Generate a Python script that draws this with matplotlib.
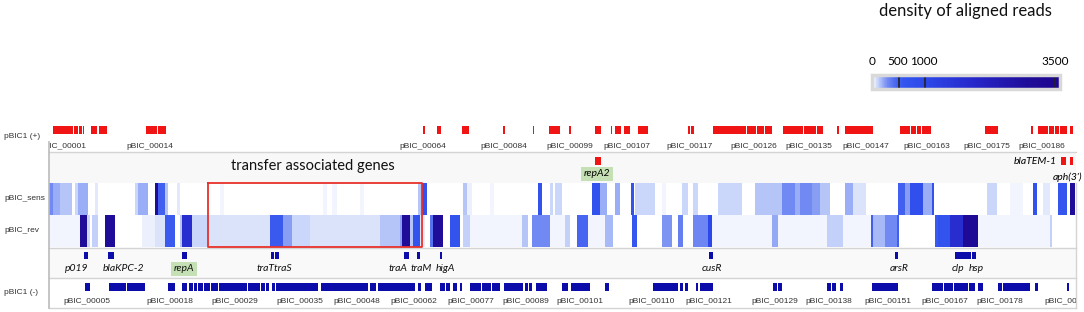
import numpy as np
import matplotlib.pyplot as plt
from matplotlib.colors import LinearSegmentedColormap, Normalize
from matplotlib.cm import ScalarMappable

# ---- data (positions along pBIC1, map units) ----
plus_genes = [(53, 73), (74, 78), (79, 82), (83, 84), (91, 97), (99, 107), (146, 157), (158, 166),
              (423, 425), (437, 441), (462, 469), (503, 505), (533, 534), (549, 560), (569, 571),
              (595, 601), (611, 612), (615, 621), (624, 630), (638, 648), (688, 690), (691, 694),
              (713, 730), (720, 746), (747, 756), (757, 764), (765, 772), (783, 803), (804, 816),
              (817, 823), (837, 839), (845, 873), (900, 910), (911, 916), (917, 921), (922, 931),
              (985, 998), (1031, 1033), (1038, 1048), (1049, 1054), (1055, 1059), (1060, 1067),
              (1070, 1073)]
plus_names = ["pBIC_00001", "pBIC_00014", "pBIC_00064", "pBIC_00084", "pBIC_00099", "pBIC_00107",
              "pBIC_00117", "pBIC_00126", "pBIC_00135", "pBIC_00147", "pBIC_00163", "pBIC_00175",
              "pBIC_00186"]
plus_name_pos = [63, 150, 423, 504, 570, 627, 690, 754, 809, 866, 927, 987, 1042]

minus_genes = [(85, 90), (109, 126), (127, 145), (168, 175), (182, 187), (189, 193), (194, 197),
               (198, 203), (204, 210), (211, 218), (219, 247), (248, 260), (261, 265), (266, 269),
               (272, 275), (276, 318), (321, 368), (360, 368), (370, 376), (378, 415), (418, 421),
               (425, 432), (440, 445), (446, 450), (453, 457), (460, 462), (470, 481), (482, 491),
               (492, 500), (504, 523), (525, 528), (529, 532), (536, 547), (562, 568), (571, 590),
               (605, 609), (653, 678), (680, 683), (685, 688), (696, 698), (700, 713), (773, 777),
               (778, 782), (827, 831), (832, 836), (840, 843), (872, 898), (932, 943), (944, 953),
               (954, 968), (969, 975), (978, 983), (998, 1002), (1003, 1030), (1035, 1038),
               (1067, 1069)]
minus_names = ["pBIC_00005", "pBIC_00018", "pBIC_00029", "pBIC_00035", "pBIC_00048", "pBIC_00062",
               "pBIC_00077", "pBIC_00089", "pBIC_00101", "pBIC_00110", "pBIC_00121", "pBIC_00129",
               "pBIC_00138", "pBIC_00151", "pBIC_00167", "pBIC_00178", "pBIC_00186"]
minus_name_pos = [87, 170, 235, 300, 357, 414, 471, 526, 580, 652, 709, 775, 829, 888, 945, 1000, 1068]

named_genes = [(84, 88), (108, 114), (182, 187), (271, 274), (275, 279), (404, 409), (417, 420),
               (440, 442), (709, 713), (895, 898), (955, 971), (972, 976)]
named_labels = ["p019", "blaKPC-2", "repA", "traTtraS", "traA", "traM", "higA", "cusR", "arsR", "clp", "hsp"]
named_label_pos = [77, 123, 184, 274, 398, 421, 445, 712, 899, 958, 976]

top_genes = [(595, 601), (1061, 1066), (1070, 1073)]

# aligned read density (start, end, reads)
sens_density = [(49, 53, 300), (53, 60, 200), (60, 72, 150), (75, 78, 100), (78, 88, 200), (95, 98, 60),
                (135, 138, 100), (138, 148, 200), (155, 158, 3000), (158, 165, 500), (165, 168, 150),
                (177, 180, 60), (220, 224, 30), (323, 327, 40), (332, 337, 40), (360, 364, 30),
                (418, 422, 150), (422, 427, 700), (463, 467, 150), (467, 472, 50), (490, 494, 40),
                (538, 542, 700), (550, 553, 100), (555, 562, 100), (592, 600, 700), (600, 607, 200),
                (615, 620, 200), (631, 634, 650), (635, 655, 100), (662, 666, 40), (682, 688, 100),
                (693, 698, 100), (718, 742, 100), (755, 782, 150), (782, 795, 300), (795, 800, 200),
                (800, 812, 300), (812, 820, 250), (820, 830, 150), (845, 853, 200), (853, 866, 80),
                (898, 905, 500), (905, 910, 250), (910, 923, 800), (923, 932, 200), (932, 934, 700),
                (987, 997, 100), (1010, 1023, 40), (1033, 1037, 700), (1043, 1050, 60),
                (1058, 1067, 600), (1070, 1075, 3000)]
rev_density = [(49, 80, 30), (80, 87, 3000), (87, 90, 100), (92, 98, 120), (105, 115, 3000),
               (142, 155, 50), (155, 165, 80), (165, 175, 550), (180, 182, 150), (182, 192, 1800),
               (192, 208, 100), (208, 270, 80), (270, 283, 550), (283, 292, 250), (292, 310, 100),
               (310, 380, 80), (380, 400, 150), (400, 402, 250), (402, 410, 3000), (410, 413, 150),
               (413, 420, 650), (420, 425, 60), (430, 433, 400), (433, 443, 3000), (450, 460, 650),
               (463, 470, 120), (470, 522, 30), (522, 528, 150), (532, 550, 300), (550, 565, 30),
               (565, 570, 120), (577, 588, 450), (588, 605, 40), (605, 613, 180), (632, 637, 600),
               (662, 672, 280), (678, 683, 350), (693, 708, 320), (708, 712, 1000), (712, 772, 30),
               (772, 778, 220), (778, 827, 40), (827, 843, 120), (843, 871, 30), (871, 873, 500),
               (873, 885, 180), (885, 897, 300), (897, 899, 500), (935, 938, 550), (938, 950, 650),
               (950, 963, 1800), (963, 978, 3200), (978, 1050, 40), (1050, 1052, 120)]

cbar_ticks = [0, 500, 1000, 3500]

# ---- colours ----
red = "#f01414"
navy = "#0c0caa"
green_bg = "#c5e0b4"
grid = "#d4d4d4"
vmax = 3600
nodes = [(0, "#ffffff"), (40, "#edf1fd"), (100, "#c9d5fa"), (200, "#98adf6"), (300, "#7088f2"),
         (450, "#4765f0"), (600, "#3355ee"), (1000, "#2d48ea"), (2000, "#2626c8"),
         (3000, "#1f0c98"), (3600, "#1e0690")]
cmap = LinearSegmentedColormap.from_list("reads", [(v / vmax, c) for v, c in nodes])
norm = Normalize(0, vmax)

fig = plt.figure(figsize=(10.84, 3.12), dpi=100)
W, H = 1084, 312
x0, x1, ytop, ybot = 49, 1076, 121, 308
ax = fig.add_axes([x0 / W, 1 - ybot / H, (x1 - x0) / W, (ybot - ytop) / H])
ax.set_xlim(x0, x1)
ax.set_ylim(ybot, ytop)
ax.axis("off")


def spans(pairs):
    return [(a, b - a) for a, b in pairs]


# light background bands
ax.axhspan(152, 183, color="#f8f8f8", lw=0)
ax.axhspan(248, 278, color="#f9f9f9", lw=0)

# plus strand
ax.broken_barh(spans(plus_genes), (126, 8), facecolors=red, lw=0)
for name, p in zip(plus_names, plus_name_pos):
    ax.text(p, 147, name, ha="center", va="center", fontsize=6, family="Liberation Sans",
            color="#333333", clip_on=True)

ax.broken_barh(spans(top_genes), (157, 8), facecolors=red, lw=0)

# density tracks
for segs, y in [(sens_density, 183), (rev_density, 215)]:
    cols = [cmap(norm(v)) for _, _, v in segs]
    ax.broken_barh([(a, b - a) for a, b, _ in segs], (y, 32), facecolors=cols, lw=0, antialiased=False)

# named genes
ax.broken_barh(spans(named_genes), (252, 7.5), facecolors=navy, lw=0)
for name, p in zip(named_labels, named_label_pos):
    bg = dict(boxstyle="square,pad=0.25", fc=green_bg, ec="none") if name == "repA" else None
    ax.text(p, 269, name, ha="center", va="center", fontsize=7.5, style="italic", family="Lato",
            color="#111111", bbox=bg)

# minus strand
ax.broken_barh(spans(minus_genes), (283, 8), facecolors=navy, lw=0)
for name, p in zip(minus_names, minus_name_pos):
    ax.text(p, 302, name, ha="center", va="center", fontsize=6, family="Liberation Sans",
            color="#333333", clip_on=True)

# separators
for y in [152, 248, 278, 308]:
    ax.plot([x0, x1], [y, y], color=grid, lw=1, clip_on=False)
ax.plot([x0, x0], [142, ybot], color="#bbbbbb", lw=1.2, clip_on=False)
ax.plot([x1, x1], [183, ybot], color=grid, lw=1, clip_on=False)

# transfer genes box
ax.plot([208, 422, 422, 208, 208], [183, 183, 247, 247, 183], color="#e8302a", lw=1.3)
ax.text(313, 166, "transfer associated genes", ha="center", va="center", fontsize=10.5,
        family="Lato", color="#111111")

# top annotations
ax.text(597, 174, "repA2", ha="center", va="center", fontsize=7.5, style="italic", family="Lato",
        bbox=dict(boxstyle="square,pad=0.25", fc=green_bg, ec="none"), clip_on=False)
ax.text(1057, 162, "blaTEM-1", ha="right", va="center", fontsize=7.5, style="italic", family="Lato",
        clip_on=False)
ax.text(1082, 177, "aph(3')", ha="right", va="center", fontsize=7.5, style="italic", family="Lato",
        clip_on=False)

# track names
for name, y in [("pBIC1 (+)", 136), ("pBIC_sens", 199), ("pBIC_rev", 231), ("pBIC1 (-)", 293)]:
    fig.text(4 / W, 1 - y / H, name, ha="left", va="center", fontsize=6, family="Liberation Sans",
             color="#333333")

# colour scale
cax = fig.add_axes([872 / W, 1 - 89 / H, (1060 - 872) / W, 14 / H])
cb = fig.colorbar(ScalarMappable(norm=norm, cmap=cmap), cax=cax, orientation="horizontal")
cb.outline.set_edgecolor("#d9d9d9")
cb.outline.set_linewidth(2.5)
cax.xaxis.set_ticks_position("top")
cax.set_xticks(cbar_ticks)
cax.set_xticklabels([str(t) for t in cbar_ticks], fontsize=8.5, family="Lato")
cax.tick_params(length=0, pad=6)
for t in cbar_ticks:
    cax.axvline(t + 8, color="#222222", lw=1.2)
fig.text(965 / W, 1 - 11 / H, "density of aligned reads", ha="center", va="center", fontsize=12,
         family="Lato", color="#111111")

fig.savefig("out.png", dpi=100)
